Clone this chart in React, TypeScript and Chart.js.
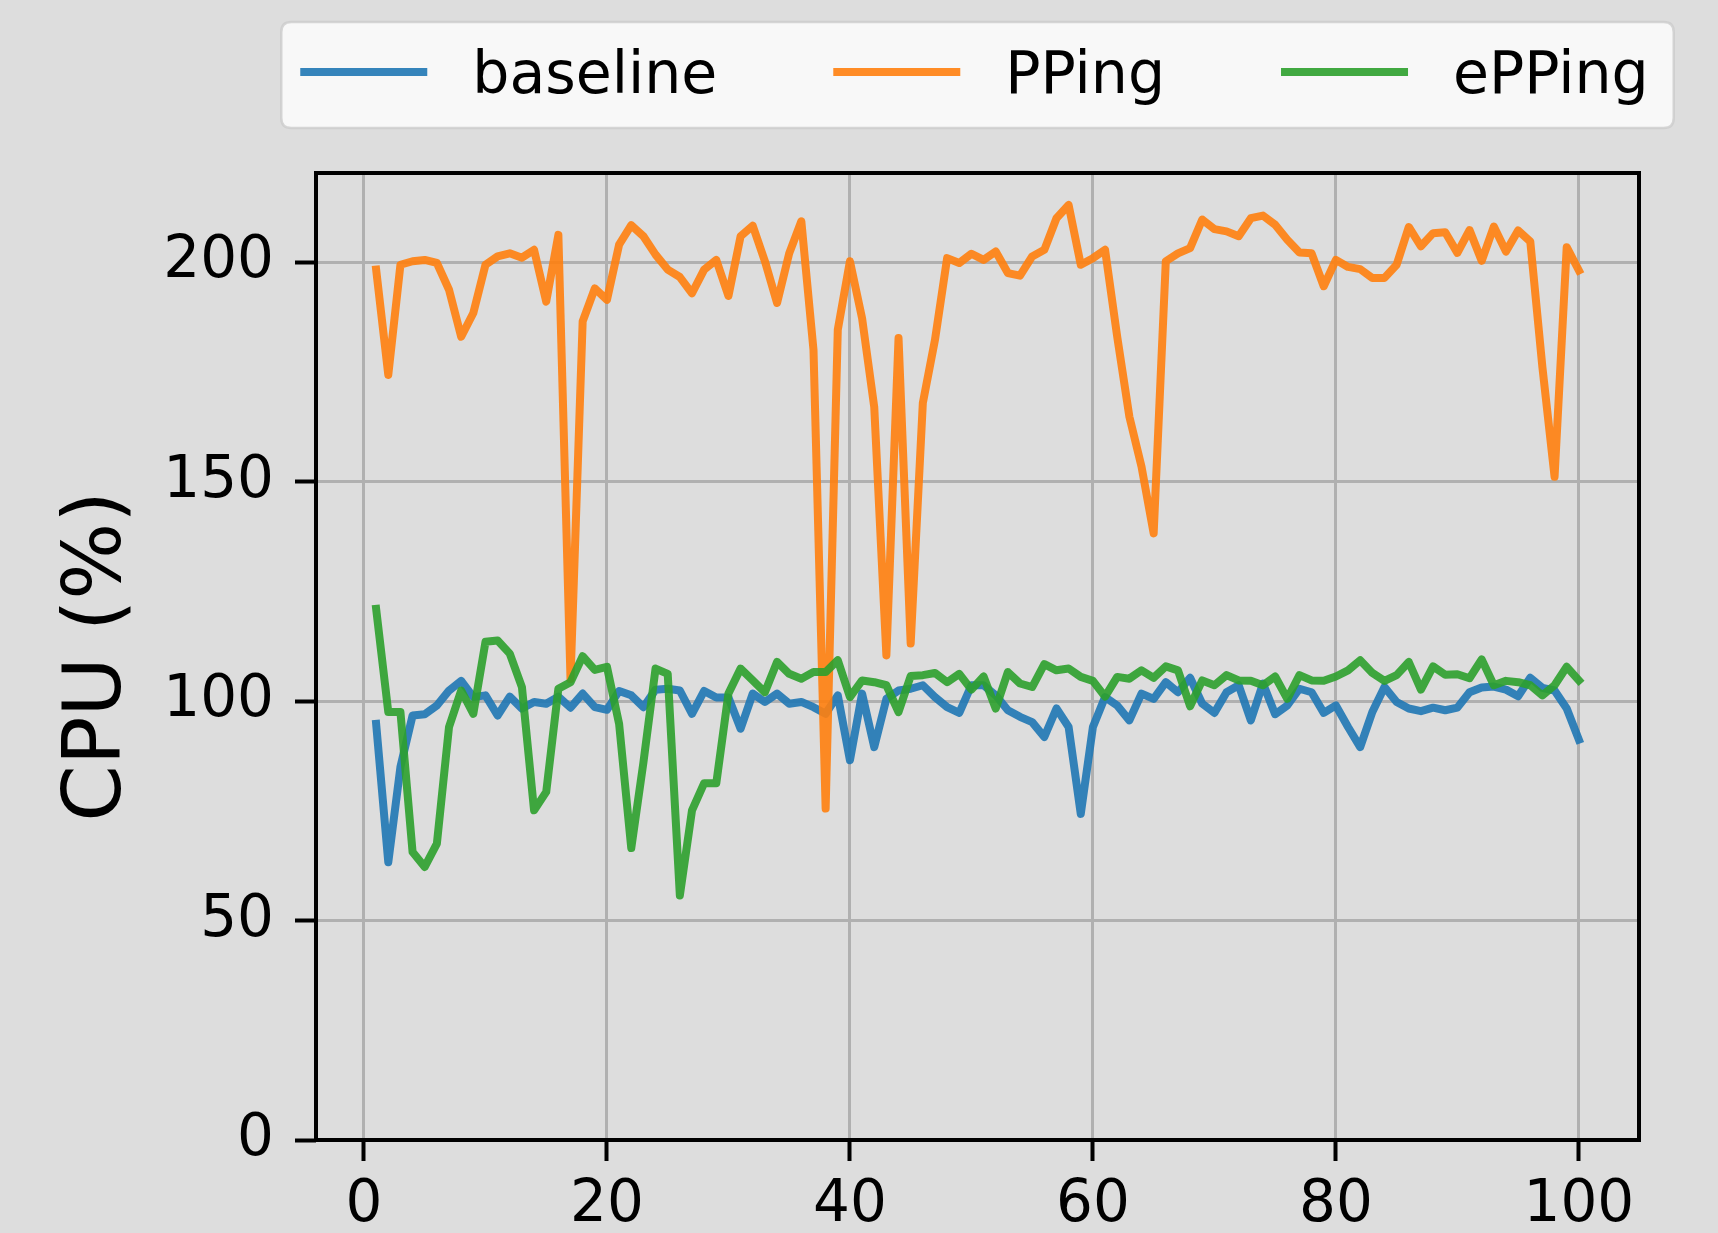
import React, { useEffect, useRef } from "react";
import { Chart, registerables } from "chart.js";

Chart.register(...registerables);

// ---------------- data ----------------
const xValues = [
  1, 2, 3, 4, 5, 6, 7, 8, 9, 10, 11, 12, 13, 14, 15, 16, 17, 18, 19, 20,
  21, 22, 23, 24, 25, 26, 27, 28, 29, 30, 31, 32, 33, 34, 35, 36, 37, 38, 39, 40,
  41, 42, 43, 44, 45, 46, 47, 48, 49, 50, 51, 52, 53, 54, 55, 56, 57, 58, 59, 60,
  61, 62, 63, 64, 65, 66, 67, 68, 69, 70, 71, 72, 73, 74, 75, 76, 77, 78, 79, 80,
  81, 82, 83, 84, 85, 86, 87, 88, 89, 90, 91, 92, 93, 94, 95, 96, 97, 98, 99, 100,
];

const baseline = [
  94.8, 63.3, 85, 96.7, 97, 99, 102.4, 104.6, 100.9, 101.3,
  96.7, 101, 98.3, 99.8, 99.4, 101, 98.5, 101.7, 98.6, 98,
  102.3, 101.3, 98.6, 102.6, 102.8, 102.4, 97.1, 102.3, 100.8, 100.8,
  93.7, 101.7, 99.8, 101.7, 99.4, 99.8, 98.6, 97.1, 101.3, 86.5,
  101.7, 89.5, 100.5, 102.4, 102.8, 103.6, 100.9, 98.6, 97.3, 103.6,
  103.6, 101.3, 97.9, 96.4, 95.2, 91.8, 98.3, 94.1, 74.3, 94.1,
  100.9, 99, 95.6, 101.7, 100.5, 104.3, 102, 105.3, 99.4, 97.3,
  102, 103.6, 95.6, 104, 97, 99, 102.8, 102, 97.3, 99,
  94.1, 89.5, 97.5, 103.2, 99.8, 98.3, 97.7, 98.5, 97.9, 98.5,
  102, 103.1, 103.3, 102.6, 101.1, 105.3, 103, 102.4, 98.3, 91.2,
];

const pping = [
  198.3, 174.3, 199.4, 200.2, 200.5, 199.8, 193.7, 183, 188.4, 199.4,
  201.3, 202, 201, 202.8, 191, 206.2, 105, 186.5, 194, 191.4,
  204, 208.4, 205.9, 201.7, 198.3, 196.6, 192.9, 198.3, 200.5, 192.3,
  205.9, 208.3, 200.2, 190.7, 202, 209.3, 180, 75.5, 184.6, 200.2,
  187.2, 167, 110.4, 182.7, 113.1, 167.9, 182.3, 200.9, 199.8, 201.9,
  200.5, 202.4, 197.5, 196.9, 201.3, 202.8, 210, 213, 199.4, 200.9,
  202.8, 183, 164.8, 153.4, 138.2, 200.2, 202, 203.2, 209.7, 207.5,
  207, 205.9, 210, 210.6, 208.5, 205.1, 202.2, 202, 194.5, 200.5,
  198.9, 198.4, 196.4, 196.4, 199.4, 208, 203.6, 206.6, 206.8, 202.1,
  207.3, 200.3, 208.1, 202.4, 207.2, 204.7, 176, 151.1, 203.4, 198.1,
];

const epping = [
  121, 97.5, 97.5, 65.6, 62.2, 67.5, 94.1, 102.4, 97.1, 113.5,
  113.8, 110.8, 103.2, 75.1, 79.3, 102.8, 104.3, 110.2, 107.1, 107.8,
  94.8, 66.5, 86, 107.4, 106.2, 55.7, 75.1, 81.3, 81.3, 101.7,
  107.4, 104.7, 102, 108.9, 106.2, 105.1, 106.6, 106.6, 109.3, 100.9,
  104.7, 104.3, 103.6, 97.5, 105.7, 105.9, 106.4, 104.3, 106.2, 102.6,
  105.6, 98.3, 106.6, 104, 103.2, 108.4, 107, 107.4, 105.5, 104.6,
  101, 105.5, 105.1, 107, 105.3, 107.9, 107, 98.8, 104.7, 103.6,
  105.9, 104.7, 104.6, 103.6, 105.6, 100.5, 105.9, 104.7, 104.6, 105.6,
  107, 109.3, 106.4, 104.6, 105.9, 108.9, 102.6, 107.9, 106, 106.1,
  105.2, 109.5, 103.6, 104.6, 104.3, 103.6, 101.3, 103.6, 107.8, 104.7,
];

const seriesLabels = ["baseline", "PPing", "ePPing"];
const seriesColors = ["#1f77b4", "#ff7f0e", "#2ca02c"];
const xTicks = [0, 20, 40, 60, 80, 100];
const yTicks = [0, 50, 100, 150, 200];
const yTitle = "CPU (%)";

// ---------------- style ----------------
const W = 1718;
const H = 1233;
const BG = "#dddddd";
const FONT = '"DejaVu Sans", sans-serif';
const TICK_SIZE = 58;
const LEGEND_SIZE = 58.5;
const LINE_W = 8;

function withAlpha(hex: string, a: number): string {
  const r = parseInt(hex.slice(1, 3), 16);
  const g = parseInt(hex.slice(3, 5), 16);
  const b = parseInt(hex.slice(5, 7), 16);
  return `rgba(${r},${g},${b},${a})`;
}

const bgPlugin = {
  id: "bgFill",
  beforeDraw(chart: any) {
    const ctx = chart.ctx;
    ctx.save();
    ctx.fillStyle = BG;
    ctx.fillRect(0, 0, chart.width, chart.height);
    ctx.restore();
  },
};

const spinePlugin = {
  id: "spines",
  afterDatasetsDraw(chart: any) {
    const { left, top, right, bottom } = chart.chartArea;
    const ctx = chart.ctx;
    ctx.save();
    ctx.strokeStyle = "#000000";
    ctx.lineWidth = 4;
    ctx.strokeRect(left, top, right - left, bottom - top);
    ctx.restore();
  },
};

function roundRect(ctx: CanvasRenderingContext2D, x: number, y: number, w: number, h: number, r: number) {
  ctx.beginPath();
  ctx.moveTo(x + r, y);
  ctx.lineTo(x + w - r, y);
  ctx.quadraticCurveTo(x + w, y, x + w, y + r);
  ctx.lineTo(x + w, y + h - r);
  ctx.quadraticCurveTo(x + w, y + h, x + w - r, y + h);
  ctx.lineTo(x + r, y + h);
  ctx.quadraticCurveTo(x, y + h, x, y + h - r);
  ctx.lineTo(x, y + r);
  ctx.quadraticCurveTo(x, y, x + r, y);
  ctx.closePath();
}

const legendPlugin = {
  id: "mplLegend",
  afterDraw(chart: any) {
    const ctx: CanvasRenderingContext2D = chart.ctx;
    const area = chart.chartArea;
    const datasets = chart.data.datasets;
    const lineLen = 127;
    const textGap = 45;
    const colSpacing = 116;
    const padL = 19;
    const padR = 25;
    const boxTop = 22;
    const boxH = 106;
    const lineY = 72;
    const textBaseY = 93;

    ctx.save();
    ctx.font = `${LEGEND_SIZE}px ${FONT}`;
    const widths = datasets.map((d: any) => ctx.measureText(d.label).width);
    let total = padL + padR;
    widths.forEach((w: number, i: number) => {
      total += lineLen + textGap + w;
      if (i < widths.length - 1) total += colSpacing;
    });
    const cx = (area.left + area.right) / 2;
    const boxLeft = cx - total / 2;

    roundRect(ctx, boxLeft, boxTop, total, boxH, 10);
    ctx.fillStyle = "rgba(255,255,255,0.8)";
    ctx.fill();
    ctx.strokeStyle = "rgba(204,204,204,0.8)";
    ctx.lineWidth = 2.5;
    ctx.stroke();

    let x = boxLeft + padL;
    datasets.forEach((d: any, i: number) => {
      ctx.beginPath();
      ctx.strokeStyle = d.borderColor;
      ctx.lineWidth = d.borderWidth;
      ctx.lineCap = "butt";
      ctx.moveTo(x, lineY);
      ctx.lineTo(x + lineLen, lineY);
      ctx.stroke();
      ctx.fillStyle = "#000000";
      ctx.textBaseline = "alphabetic";
      ctx.textAlign = "left";
      ctx.fillText(d.label, x + lineLen + textGap, textBaseY);
      x += lineLen + textGap + widths[i] + colSpacing;
    });
    ctx.restore();
  },
};

export default function App() {
  const canvasRef = useRef<HTMLCanvasElement | null>(null);

  useEffect(() => {
    const canvas = canvasRef.current;
    if (!canvas) return;
    const series = [baseline, pping, epping];
    const chart = new Chart(canvas, {
      type: "line",
      data: {
        datasets: series.map((vals, i) => ({
          label: seriesLabels[i],
          data: xValues.map((x, j) => ({ x, y: vals[j] })),
          borderColor: withAlpha(seriesColors[i], 0.9),
          backgroundColor: withAlpha(seriesColors[i], 0.9),
          borderWidth: LINE_W,
          pointRadius: 0,
          pointHoverRadius: 0,
          tension: 0,
          fill: false,
          borderJoinStyle: "round" as const,
          borderCapStyle: "square" as const,
          order: 3 - i,
        })),
      },
      plugins: [bgPlugin, spinePlugin, legendPlugin],
      options: {
        responsive: false,
        maintainAspectRatio: false,
        animation: false,
        devicePixelRatio: 1,
        events: [],
        layout: { padding: { top: 173, right: 79, left: 0, bottom: 0 } },
        plugins: {
          legend: { display: false },
          tooltip: { enabled: false },
          title: { display: false },
        },
        scales: {
          x: {
            type: "linear",
            min: -3.95,
            max: 104.95,
            afterBuildTicks: (scale: any) => {
              scale.ticks = xTicks.map((v) => ({ value: v }));
            },
            afterFit: (scale: any) => {
              scale.height = H - 1140;
            },
            ticks: {
              color: "#000000",
              font: { family: FONT, size: TICK_SIZE },
              padding: 10,
              maxRotation: 0,
              autoSkip: false,
              callback: (v: any) => String(v),
            },
            grid: {
              color: "#b0b0b0",
              lineWidth: 3,
              drawTicks: true,
              tickLength: 21,
              tickWidth: 4,
              tickColor: "#000000",
            },
            border: { display: false },
          },
          y: {
            type: "linear",
            min: 0,
            max: 220.3,
            afterBuildTicks: (scale: any) => {
              scale.ticks = yTicks.map((v) => ({ value: v }));
            },
            afterFit: (scale: any) => {
              scale.width = 316;
            },
            ticks: {
              color: "#000000",
              font: { family: FONT, size: TICK_SIZE },
              padding: 21,
              autoSkip: false,
              callback: (v: any) => String(v),
            },
            grid: {
              color: "#b0b0b0",
              lineWidth: 3,
              drawTicks: true,
              tickLength: 21,
              tickWidth: 4,
              tickColor: "#000000",
            },
            border: { display: false },
            title: {
              display: true,
              text: yTitle,
              color: "#000000",
              font: { family: FONT, size: 81 },
              padding: { top: 50, bottom: 0 },
            },
          },
        },
      },
    } as any);
    return () => {
      chart.destroy();
    };
  }, []);

  return (
    <canvas
      ref={canvasRef}
      width={W}
      height={H}
      style={{ position: "absolute", left: 0, top: 0, width: W, height: H, display: "block" }}
    />
  );
}
